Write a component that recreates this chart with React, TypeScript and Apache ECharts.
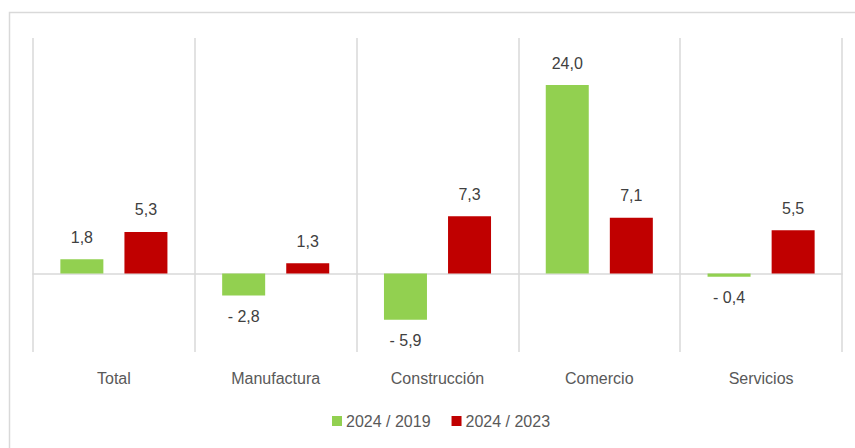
import React, { useEffect, useRef } from "react";
import * as echarts from "echarts";

const categories = ["Total", "Manufactura", "Construcción", "Comercio", "Servicios"];
const seriesNames = ["2024 / 2019", "2024 / 2023"];
const values2019 = [1.8, -2.8, -5.9, 24.0, -0.4];
const values2023 = [5.3, 1.3, 7.3, 7.1, 5.5];
const colors = ["#92D050", "#C00000"];

const FONT = "'Liberation Sans', Arial, sans-serif";

const fmt = (v: number) => {
  const s = Math.abs(v).toFixed(1).replace(".", ",");
  return v < 0 ? "- " + s : s;
};

const toData = (arr: number[]) =>
  arr.map((v) => ({
    value: v,
    label: v < 0 ? { position: "bottom", distance: 13 } : { position: "top", distance: 14 },
  }));

export default function App() {
  const ref = useRef<HTMLDivElement>(null);
  useEffect(() => {
    const chart = echarts.init(ref.current!, null, { renderer: "svg" });
    const labelCfg = {
      show: true,
      color: "#404040",
      fontSize: 16,
      fontFamily: FONT,
      formatter: (p: any) => fmt(p.value),
    };
    chart.setOption({
      animation: false,
      backgroundColor: "#ffffff",
      textStyle: { fontFamily: FONT },
      graphic: [
        {
          type: "rect",
          shape: { x: 9.5, y: 12.5, width: 900, height: 500 },
          style: { fill: "none", stroke: "#d9d9d9", lineWidth: 1.5 },
          z: -10,
        },
      ],
      grid: { left: 33, right: 13, top: 38, bottom: 96 },
      legend: {
        data: seriesNames,
        left: 327,
        top: 408,
        itemWidth: 10,
        itemHeight: 10,
        itemGap: 21,
        icon: "rect",
        textStyle: { color: "#595959", fontSize: 16, fontFamily: FONT, padding: [0, 0, 0, -1] },
      },
      xAxis: {
        type: "category",
        data: categories,
        axisLine: { onZero: true, lineStyle: { color: "#d9d9d9", width: 1.5 } },
        axisTick: { show: false },
        axisLabel: {
          color: "#595959",
          fontSize: 16,
          fontFamily: FONT,
          margin: 18,
        },
        splitLine: { show: true, lineStyle: { color: "#d9d9d9", width: 1.5 } },
      },
      yAxis: {
        type: "value",
        min: -10,
        max: 30,
        interval: 10,
        show: false,
        splitLine: { show: false },
      },
      series: [
        {
          name: seriesNames[0],
          type: "bar",
          data: toData(values2019),
          itemStyle: { color: colors[0] },
          barWidth: 43,
          barGap: "49%",
          label: labelCfg,
        },
        {
          name: seriesNames[1],
          type: "bar",
          data: toData(values2023),
          itemStyle: { color: colors[1] },
          barWidth: 43,
          barGap: "49%",
          label: labelCfg,
        },
      ],
    });
    return () => chart.dispose();
  }, []);
  return (
    <div
      ref={ref}
      style={{ position: "fixed", left: 0, top: 0, width: 855, height: 448 }}
    />
  );
}
